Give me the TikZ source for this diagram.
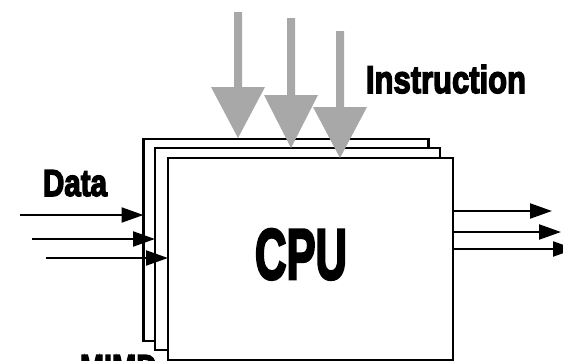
\documentclass[tikz,border=0pt]{standalone}
\usepackage{graphicx}
\usepackage{fontspec}
\newfontfamily\heavy[FakeBold=4]{Liberation Sans}
\usetikzlibrary{arrows.meta}
\definecolor{arrgray}{HTML}{A8A8A8}
\tikzset{
  cpubox/.style={draw=black, fill=white, line width=2.5pt, minimum width=285pt, minimum height=202pt, inner sep=0pt, outer sep=0pt},
  blk/.style={inner sep=0pt, outer sep=0pt},
  darr/.style={line width=2.2pt, -{Triangle[length=22pt,width=15pt]}},
  garr/.style={fill=arrgray, draw=none}
}
\newcommand{\lbl}[3]{\resizebox{#1pt}{#2pt}{\heavy\bfseries #3}}
\begin{document}
\begin{tikzpicture}[x=1pt,y=-1pt]
\useasboundingbox (0,0) rectangle (563,360);
\clip (0,0) rectangle (563,360);
% stacked processor boxes
\node[cpubox] (back) at (286,240) {};
\node[cpubox] (mid) at (297.5,249) {};
\node[cpubox] (front) at (310.5,259) {};
\node[blk, anchor=north west] (cpu) at (255,229) {\lbl{92}{50}{CPU}};
% labels
\node[blk, anchor=north west] (data) at (43,170) {\lbl{64}{26}{Data}};
\node[blk, anchor=north west] (instr) at (366,65) {\lbl{160}{28}{Instruction}};
\node[blk, anchor=north west] (mimd) at (80,355) {\lbl{77}{26}{MIMD}};
% data inputs
\coordinate (d1) at (20,215);
\coordinate (d2) at (32,239);
\coordinate (d3) at (46,258);
\draw[darr] (d1) -- (d1 -| back.west);
\draw[darr] (d2) -- (d2 -| mid.west);
\draw[darr] (d3) -- (d3 -| front.west);
% outputs
\coordinate (o1) at (552,211);
\coordinate (o2) at (561,232);
\coordinate (o3) at (575,249);
\draw[darr] (o1 -| front.east) -- (o1);
\draw[darr] (o2 -| front.east) -- (o2);
\draw[darr] (o3 -| front.east) -- (o3);
% instruction arrows (gray, block style)
\coordinate (i1) at (238,12);
\coordinate (i2) at (291,18);
\coordinate (i3) at (340,31);
\coordinate (t1) at (238,138);
\coordinate (t2) at (291,148);
\coordinate (t3) at (340,158);
\fill[garr] ([xshift=-4]i1) -- ([xshift=-4]i1 |- 0,87) -- ([xshift=-27]i1 |- 0,87) -- (t1) -- ([xshift=27]i1 |- 0,87) -- ([xshift=4]i1 |- 0,87) -- ([xshift=4]i1) -- cycle;
\fill[garr] ([xshift=-4]i2) -- ([xshift=-4]i2 |- 0,95) -- ([xshift=-27]i2 |- 0,95) -- (t2) -- ([xshift=27]i2 |- 0,95) -- ([xshift=4]i2 |- 0,95) -- ([xshift=4]i2) -- cycle;
\fill[garr] ([xshift=-4]i3) -- ([xshift=-4]i3 |- 0,107) -- ([xshift=-27]i3 |- 0,107) -- (t3) -- ([xshift=27]i3 |- 0,107) -- ([xshift=4]i3 |- 0,107) -- ([xshift=4]i3) -- cycle;
\end{tikzpicture}
\end{document}
